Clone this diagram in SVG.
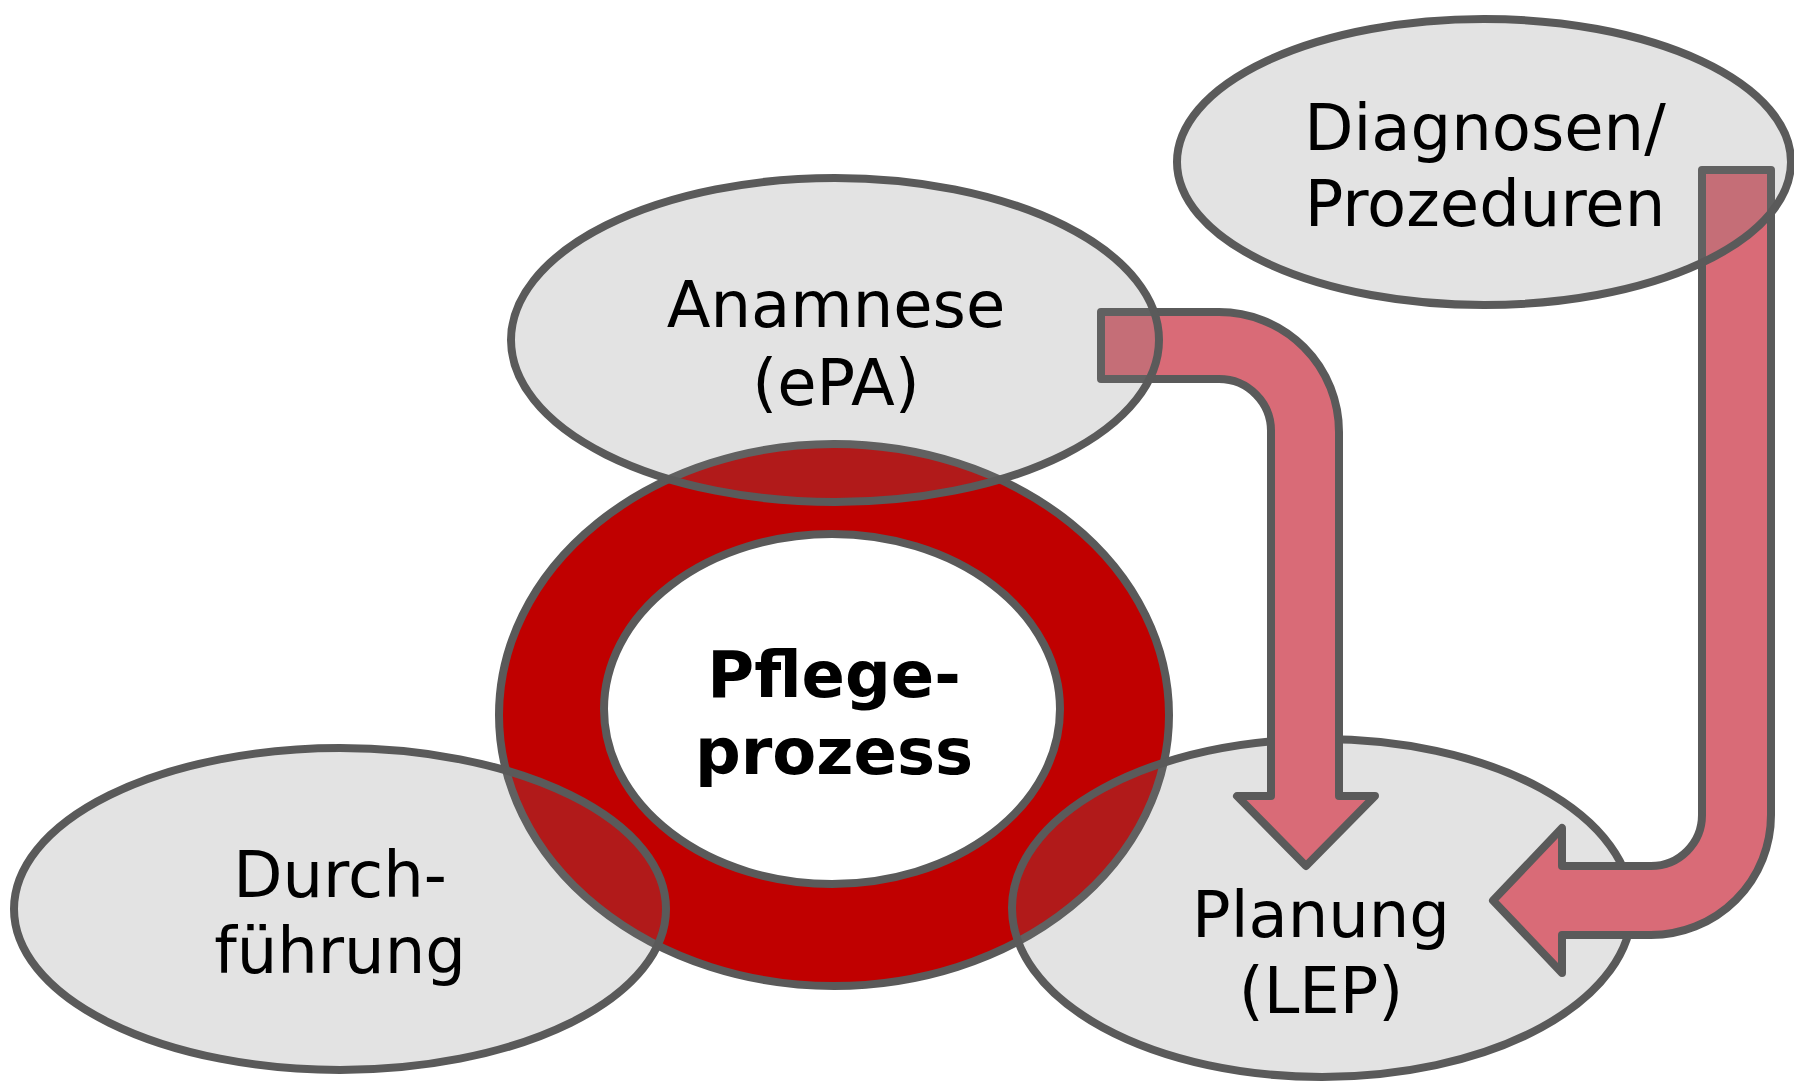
<svg xmlns="http://www.w3.org/2000/svg" width="1794" height="1083" viewBox="0 0 1794 1083">
<style>
.lbl{font-family:"DejaVu Sans","Liberation Sans",sans-serif;font-size:64px;fill:#000;text-anchor:middle}
.bold{font-weight:bold}
.node{fill:#7B7B7B;fill-opacity:0.21;stroke:#5A5A5A;stroke-width:8}
.arrow{fill:#D96B77;stroke:#5A5A5A;stroke-width:8;stroke-linejoin:round}
</style>
<rect width="1794" height="1083" fill="#FFFFFF"/>
<g id="pflegeprozess">
<ellipse cx="834" cy="715" rx="335" ry="271" fill="#C00000" stroke="#5A5A5A" stroke-width="8"/>
<ellipse cx="832" cy="709" rx="228" ry="175" fill="#FFFFFF" stroke="#5A5A5A" stroke-width="8"/>
<text class="lbl bold" x="834" y="697">Pflege-</text>
<text class="lbl bold" x="834" y="774">prozess</text>
</g>
<g id="durchfuehrung">
<ellipse class="node" cx="340" cy="909" rx="326" ry="161"/>
<text class="lbl" x="340" y="897">Durch-</text>
<text class="lbl" x="340" y="973">führung</text>
</g>
<g id="planung">
<ellipse class="node" cx="1322" cy="908" rx="310" ry="169"/>
<text class="lbl" x="1321" y="937">Planung</text>
<text class="lbl" x="1321" y="1013">(LEP)</text>
</g>
<g id="connectors">
<path class="arrow" d="M1101,312 H1219 A120,120 0 0 1 1339,432 V796 H1375 L1306,866 L1237,796 H1271 V432 A52,52 0 0 0 1219,379 H1101 Z"/>
<path class="arrow" d="M1702,170 H1771 V815 A120,120 0 0 1 1651,935 H1562 V973 L1493,900.5 L1562,828 V866 H1651 A51,51 0 0 0 1702,815 Z"/>
</g>
<g id="anamnese">
<ellipse class="node" cx="835" cy="340" rx="324" ry="162"/>
<text class="lbl" x="836" y="327">Anamnese</text>
<text class="lbl" x="836" y="405">(ePA)</text>
</g>
<g id="diagnosen">
<ellipse class="node" cx="1484" cy="162" rx="307" ry="143"/>
<text class="lbl" x="1485" y="150">Diagnosen/</text>
<text class="lbl" x="1485" y="226">Prozeduren</text>
</g>
</svg>
